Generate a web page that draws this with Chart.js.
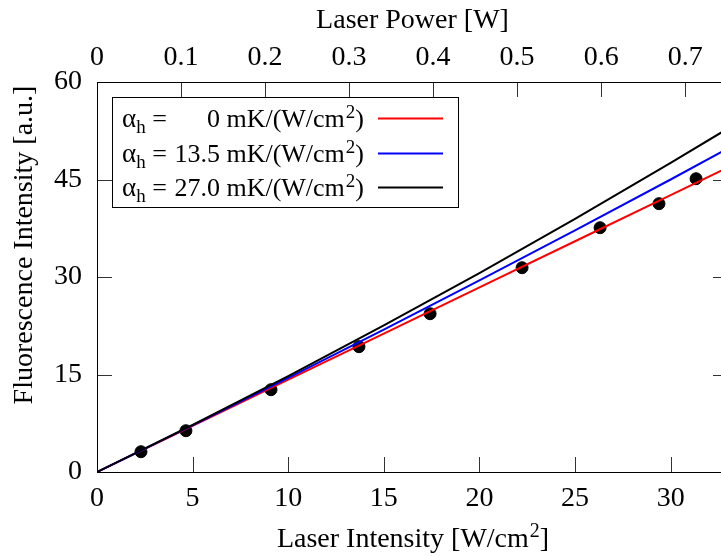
<!DOCTYPE html>
<html>
<head>
<meta charset="utf-8">
<script src="https://cdn.jsdelivr.net/npm/chart.js@4/dist/chart.umd.min.js"></script>
<style>
  html, body { margin: 0; padding: 0; background: #fff; overflow: hidden; }
  #wrap { width: 721px; height: 556px; overflow: hidden; }
</style>
</head>
<body>
<div id="wrap"><canvas id="fluo" width="745" height="556"></canvas></div>
<script>
// measured fluorescence
const intensity    = [2.30, 4.65, 9.10, 13.70, 17.42, 22.23, 26.31, 29.39, 31.33];
const fluorescence = [3.12, 6.35, 12.66, 19.28, 24.35, 31.43, 37.58, 41.28, 45.12];

// model curves for three heating coefficients
const modelIntensity = [0, 5, 10, 15, 20, 25, 30, 33];
const modelAlpha0    = [0, 7.10, 14.20, 21.30, 28.40, 35.50, 42.60, 46.86];
const modelAlpha135  = [0, 7.17, 14.47, 21.90, 29.47, 37.18, 45.00, 49.78];
const modelAlpha270  = [0, 7.24, 14.75, 22.54, 30.60, 38.94, 47.55, 52.85];

const alphaValues = ['0', '13.5', '27.0'];
const alphaColors = ['#ff0000', '#0000ff', '#000000'];

const intensityMax = 33;
const powerMax = 0.751;
const yTickValues = [0, 15, 30, 45, 60];

const FONT = 'Liberation Serif';
const SIZE = 28;
const KEY_SIZE = 26;
const TICK = 15;

const pts = (xs, ys) => xs.map((x, i) => ({ x: x, y: ys[i] }));

function model(ys, color, order) {
  return {
    data: pts(modelIntensity, ys),
    showLine: true,
    borderColor: color,
    borderWidth: 2,
    pointRadius: 0,
    tension: 0,
    order: order
  };
}

// draws text with a raised "2" before the closing bracket
function drawWithSquare(ctx, head, tail, x, y, size, align) {
  const sup = Math.round(size * 0.72);
  ctx.font = size + 'px "' + FONT + '"';
  const wHead = ctx.measureText(head).width;
  const wTail = ctx.measureText(tail).width;
  ctx.font = sup + 'px "' + FONT + '"';
  const wSup = ctx.measureText('2').width;
  const total = wHead + wSup + wTail;
  let x0 = x;
  if (align === 'center') x0 = x - total / 2;
  if (align === 'right') x0 = x - total;
  ctx.textAlign = 'left';
  ctx.font = size + 'px "' + FONT + '"';
  ctx.fillText(head, x0, y);
  ctx.font = sup + 'px "' + FONT + '"';
  ctx.fillText('2', x0 + wHead + 1, y - size * 0.34);
  ctx.font = size + 'px "' + FONT + '"';
  ctx.fillText(tail, x0 + wHead + wSup + 1, y);
}

const framePlugin = {
  id: 'frame',
  beforeDatasetsDraw(chart) {
    const { ctx, chartArea: a, scales } = chart;
    ctx.save();
    ctx.strokeStyle = '#333';
    ctx.lineWidth = 1;
    ctx.beginPath();
    scales.x.ticks.forEach(t => {
      const px = Math.round(scales.x.getPixelForValue(t.value)) + 0.5;
      ctx.moveTo(px, a.bottom);
      ctx.lineTo(px, a.bottom - TICK);
    });
    scales.x2.ticks.forEach(t => {
      const px = Math.round(scales.x2.getPixelForValue(t.value)) + 0.5;
      ctx.moveTo(px, a.top);
      ctx.lineTo(px, a.top + TICK);
    });
    scales.y.ticks.forEach(t => {
      const py = Math.round(scales.y.getPixelForValue(t.value)) + 0.5;
      ctx.moveTo(a.left, py);
      ctx.lineTo(a.left + TICK, py);
      ctx.moveTo(a.right, py);
      ctx.lineTo(a.right - TICK, py);
    });
    ctx.stroke();
    ctx.strokeStyle = '#000';
    ctx.strokeRect(Math.round(a.left) + 0.5, Math.round(a.top) + 0.5,
                   Math.round(a.right - a.left), Math.round(a.bottom - a.top));
    ctx.restore();
  },
  afterDatasetsDraw(chart) {
    const { ctx, chartArea: a } = chart;
    ctx.save();
    ctx.fillStyle = '#000';
    ctx.textBaseline = 'alphabetic';

    // axis titles
    const cx = (a.left + a.right) / 2;
    ctx.font = SIZE + 'px "' + FONT + '"';
    ctx.textAlign = 'center';
    ctx.fillText('Laser Power [W]', cx, 28);
    drawWithSquare(ctx, 'Laser Intensity [W/cm', ']', cx, 547, SIZE, 'center');
    ctx.save();
    ctx.translate(32, 245);
    ctx.rotate(-Math.PI / 2);
    ctx.font = SIZE + 'px "' + FONT + '"';
    ctx.textAlign = 'center';
    ctx.fillText('Fluorescence Intensity [a.u.]', 0, 0);
    ctx.restore();

    // key box
    const bx = Math.round(a.left) + 15, by = Math.round(a.top) + 15;
    const bw = 346, bh = 110;
    ctx.fillStyle = '#fff';
    ctx.fillRect(bx, by, bw, bh);
    ctx.strokeStyle = '#000';
    ctx.lineWidth = 1;
    ctx.strokeRect(bx + 0.5, by + 0.5, bw, bh);

    ctx.fillStyle = '#000';
    alphaValues.forEach((v, i) => {
      const ly = by + 21 + i * 34.5;
      const base = ly + 9;
      ctx.textAlign = 'left';
      ctx.font = (KEY_SIZE + 1) + 'px "' + FONT + '"';
      ctx.fillText('\u03b1', bx + 10, base);
      const wa = ctx.measureText('\u03b1').width;
      ctx.font = '19px "' + FONT + '"';
      ctx.fillText('h', bx + 10 + wa, base + 6);
      const wh = ctx.measureText('h').width;
      ctx.font = KEY_SIZE + 'px "' + FONT + '"';
      ctx.fillText(' =', bx + 10 + wa + wh, base);
      drawWithSquare(ctx, v + ' mK/(W/cm', ')', bx + 251, base, KEY_SIZE, 'right');

      ctx.strokeStyle = alphaColors[i];
      ctx.lineWidth = 2;
      ctx.beginPath();
      ctx.moveTo(bx + 266, Math.round(ly) + 0.5);
      ctx.lineTo(bx + 331, Math.round(ly) + 0.5);
      ctx.stroke();
    });
    ctx.restore();
  }
};

const tickFont = { family: FONT, size: SIZE };

new Chart(document.getElementById('fluo'), {
  type: 'scatter',
  data: {
    datasets: [
      model(modelAlpha270, alphaColors[2], 1),
      model(modelAlpha135, alphaColors[1], 2),
      model(modelAlpha0, alphaColors[0], 3),
      {
        data: pts(intensity, fluorescence),
        backgroundColor: '#000',
        borderColor: '#000',
        pointRadius: 6,
        showLine: false,
        order: 4
      }
    ]
  },
  options: {
    responsive: false,
    animation: false,
    layout: { padding: { left: 0, right: 17, top: 0, bottom: 0 } },
    plugins: { legend: { display: false }, tooltip: { enabled: false } },
    scales: {
      x: {
        type: 'linear',
        position: 'bottom',
        min: 0,
        max: intensityMax,
        grid: { display: false, drawTicks: false },
        border: { display: false },
        ticks: { stepSize: 5, includeBounds: false, font: tickFont, color: '#000', padding: 10, maxRotation: 0 },
        afterFit: s => { s.height = 84; }
      },
      x2: {
        type: 'linear',
        position: 'top',
        min: 0,
        max: powerMax,
        grid: { display: false, drawTicks: false },
        border: { display: false },
        ticks: {
          stepSize: 0.1, includeBounds: false, font: tickFont, color: '#000', padding: 8, maxRotation: 0,
          callback: v => String(Math.round(v * 10) / 10)
        },
        afterFit: s => { s.height = 82; }
      },
      y: {
        type: 'linear',
        position: 'left',
        min: 0,
        max: 60,
        grid: { display: false, drawTicks: false },
        border: { display: false },
        afterBuildTicks: s => { s.ticks = yTickValues.map(v => ({ value: v })); },
        ticks: { font: tickFont, color: '#000', padding: 15 },
        afterFit: s => { s.width = 97; }
      }
    }
  },
  plugins: [framePlugin]
});
</script>
</body>
</html>
